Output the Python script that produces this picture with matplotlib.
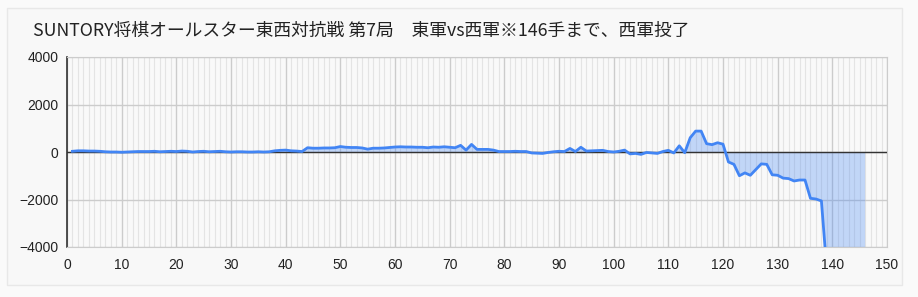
import numpy as np
import matplotlib.pyplot as plt
from matplotlib.patches import Rectangle
from matplotlib.ticker import MultipleLocator

plt.rcParams['font.family'] = ['Liberation Sans', 'DejaVu Sans']

title = "SUNTORY将棋オールスター東西対抗戦 第7局　東軍vs西軍※146手まで、西軍投了"

# 評価値 (手数 1..146)
moves = np.arange(1, 147)
evals = [
    30, 50, 50, 40, 40, 30, 10, 0, 0, -10,
    0, 10, 20, 20, 20, 30, 10, 20, 30, 20,
    40, 30, 0, 20, 30, 10, 20, 30, 10, 0,
    10, 10, 0, 0, 10, 0, 10, 50, 70, 80,
    50, 40, 20, 180, 160, 160, 170, 170, 180, 230,
    200, 190, 190, 170, 120, 160, 160, 170, 190, 210,
    220, 210, 210, 200, 200, 180, 210, 200, 220, 200,
    180, 280, 80, 320, 110, 110, 110, 80, 20, 20,
    20, 30, 20, 20, -40, -50, -60, -20, 10, 30,
    20, 150, 20, 200, 40, 50, 60, 70, 20, 0,
    30, 80, -80, -60, -100, -20, -40, -60, 20, 70,
    -40, 260, -30, 600, 880, 880, 350, 310, 390, 330,
    -420, -520, -1000, -880, -980, -740, -500, -520, -960, -980,
    -1100, -1120, -1220, -1180, -1180, -1950, -1980, -2060, -5000, -31000,
    -31000, -31000, -31000, -31000, -31000, -31000,
]
evals = np.array(evals)

x_ticks = np.arange(0, 151, 10)
y_ticks = [-4000, -2000, 0, 2000, 4000]

fig = plt.figure(figsize=(9.18, 2.97), dpi=100)
fig.patch.set_facecolor('#fafafa')
fig.patches.append(Rectangle((7 / 918, 1 - 285 / 297), 895 / 918, 277 / 297,
                             transform=fig.transFigure, facecolor='#f8f8f8',
                             edgecolor='#e8e8e8', linewidth=1, zorder=-5))

ax = fig.add_axes([67 / 918, 1 - 247 / 297, 820 / 918, 190 / 297])
ax.set_zorder(1)
ax.set_facecolor('#f9f9f9')

ax.fill_between(moves, evals, 0, color='#4285f4', alpha=0.3, linewidth=0, zorder=2)
ax.plot(moves, evals, color='#4285f4', linewidth=2, zorder=4, solid_joinstyle='round')
ax.axhline(0, color='#333333', linewidth=1, zorder=3)

ax.set_xlim(0, 150)
ax.set_ylim(-4000, 4000)
ax.set_xticks(x_ticks)
ax.set_yticks(y_ticks)
ax.xaxis.set_minor_locator(MultipleLocator(1))
ax.grid(which='minor', axis='x', color='#e4e4e4', linewidth=0.8, zorder=1)
ax.grid(which='major', axis='x', color='#cccccc', linewidth=1, zorder=1)
ax.grid(which='major', axis='y', color='#cccccc', linewidth=1, zorder=1)
ax.set_axisbelow(True)

for side in ['top', 'right', 'bottom']:
    ax.spines[side].set_color('#cccccc')
ax.spines['left'].set_color('#333333')
ax.spines['left'].set_linewidth(1.2)
ax.tick_params(which='both', length=0, labelsize=10, colors='#222222')
ax.tick_params(axis='x', pad=8)
ax.tick_params(axis='y', pad=6)

fig.text(33 / 918, 1 - 31 / 297, title, fontsize=12.8, va='center', ha='left',
         color='#222222', family=['Noto Sans CJK JP', 'DejaVu Sans'])

fig.savefig('out.png', dpi=100, facecolor=fig.get_facecolor())
